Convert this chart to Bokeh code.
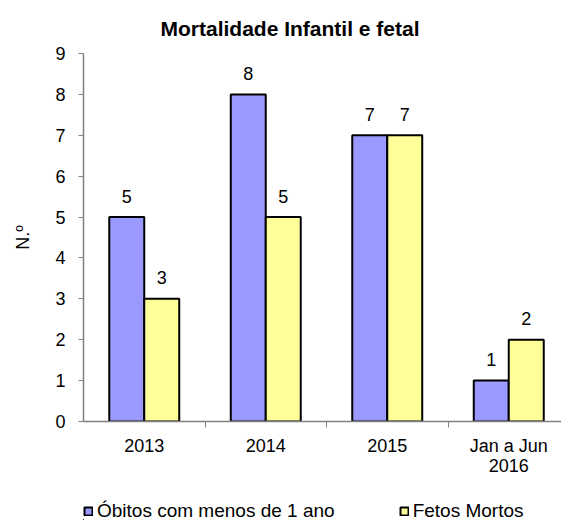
from bokeh.plotting import figure
from bokeh.layouts import column
from bokeh.models import ColumnDataSource, Range1d, FixedTicker, Legend, LegendItem
from bokeh.core.properties import value
from bokeh.embed import file_html
from bokeh.resources import INLINE

categories = ["2013", "2014", "2015", "Jan a Jun\n2016"]
obitos = [5, 8, 7, 1]
fetos = [3, 5, 7, 2]
series_names = ["Óbitos com menos de 1 ano", "Fetos Mortos"]
series_colors = ["#9999FF", "#FFFF99"]
y_ticks = [0, 1, 2, 3, 4, 5, 6, 7, 8, 9]

FONT = "Liberation Sans"
BAR_W = 0.288

centers = [i + 0.5 for i in range(len(categories))]
src_a = ColumnDataSource(dict(x=[c - BAR_W / 2 for c in centers], top=obitos,
                              label=[str(v) for v in obitos]))
src_b = ColumnDataSource(dict(x=[c + BAR_W / 2 for c in centers], top=fetos,
                              label=[str(v) for v in fetos]))
sources = [src_a, src_b]

p = figure(width=561, height=490, output_backend="svg", toolbar_location=None,
           x_range=Range1d(0, 478 / 121.5), y_range=Range1d(0, 9),
           min_border_left=83, min_border_right=0, min_border_top=53, min_border_bottom=69)
p.outline_line_color = None
p.xgrid.grid_line_color = None
p.ygrid.grid_line_color = None

for s, c in zip(sources, series_colors):
    p.vbar(x="x", top="top", width=BAR_W, bottom=0, source=s,
           fill_color=c, line_color="black", line_width=2)

for s in sources:
    p.text(x="x", y="top", text="label", source=s, text_align="center",
           text_baseline="middle", y_offset=-21, text_font=value(FONT),
           text_font_size="18px", text_color="black")

# x axis
xa = p.xaxis[0]
xa.ticker = FixedTicker(ticks=centers, minor_ticks=[1, 2, 3])
xa.major_label_overrides = {c: lab for c, lab in zip(centers, categories)}
xa.major_tick_line_color = None
xa.major_tick_out = 0
xa.major_tick_in = 0
xa.minor_tick_out = 6
xa.minor_tick_in = 0
xa.minor_tick_line_color = "#808080"
xa.axis_line_color = "#808080"
xa.axis_line_width = 1.5
xa.major_label_text_font = FONT
xa.major_label_text_font_size = "18px"
xa.major_label_text_color = "black"
xa.major_label_text_line_height = 1.0
xa.major_label_standoff = 8

# y axis
ya = p.yaxis[0]
ya.ticker = FixedTicker(ticks=y_ticks)
ya.minor_tick_line_color = None
ya.major_tick_out = 5
ya.major_tick_in = 0
ya.major_tick_line_color = "#808080"
ya.axis_line_color = "#808080"
ya.axis_line_width = 1.5
ya.major_label_text_font = FONT
ya.major_label_text_font_size = "18px"
ya.major_label_text_color = "black"
ya.major_label_standoff = 13
ya.axis_label = "N.º"
ya.axis_label_text_font = FONT
ya.axis_label_text_font_size = "18px"
ya.axis_label_text_font_style = "normal"
ya.axis_label_text_color = "black"
ya.axis_label_standoff = 19

p.title.text = "Mortalidade Infantil e fetal"
p.title.text_font = FONT
p.title.text_font_size = "21px"
p.title.text_font_style = "bold"
p.title.text_color = "black"
p.title.align = "left"
p.title.offset = 77
p.title.standoff = 27

# legend strip below the chart (its bars fall far outside its own ranges, only the key shows)
q = figure(width=561, height=30, output_backend="svg", toolbar_location=None,
           x_range=Range1d(1000, 1001), y_range=Range1d(1000, 1001),
           x_axis_type=None, y_axis_type=None,
           min_border_left=0, min_border_right=0, min_border_top=0, min_border_bottom=0)
q.outline_line_color = None
q.xgrid.grid_line_color = None
q.ygrid.grid_line_color = None
swatches = [q.vbar(x="x", top="top", width=BAR_W, bottom=0, source=s,
                   fill_color=c, line_color="black", line_width=2)
            for s, c in zip(sources, series_colors)]
legend = Legend(items=[LegendItem(label=n, renderers=[r]) for n, r in zip(series_names, swatches)],
                orientation="horizontal", location=(0, -1.5),
                glyph_width=10, glyph_height=10, label_standoff=4, spacing=64,
                padding=0, margin=0, border_line_color=None, background_fill_alpha=0,
                label_text_font=FONT, label_text_font_size="19px",
                label_text_color="black")
q.add_layout(legend, "center")

layout = column(p, q, spacing=0)
open("out.html", "w").write(file_html(layout, INLINE))
